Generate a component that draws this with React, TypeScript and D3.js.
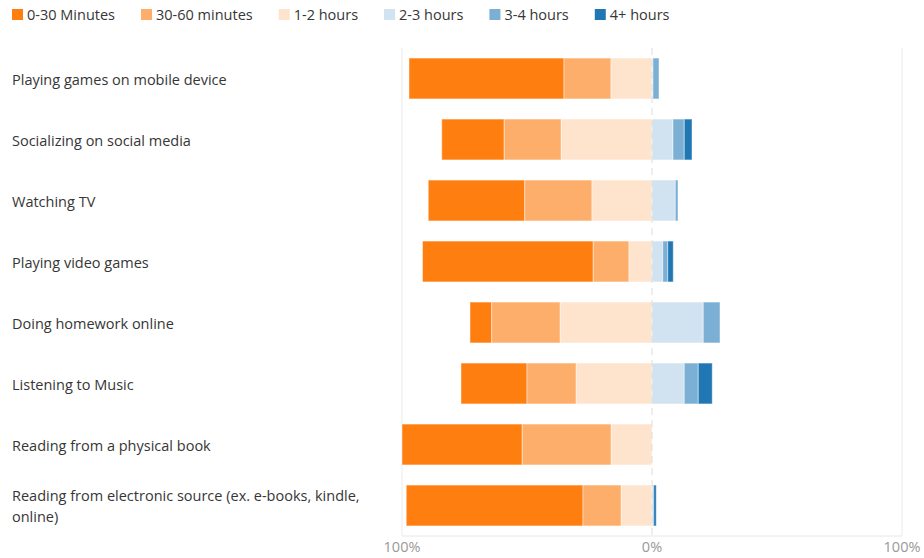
import React, { useEffect, useRef } from "react";
import * as d3 from "d3";

const categories = [
  "Playing games on mobile device",
  "Socializing on social media",
  "Watching TV",
  "Playing video games",
  "Doing homework online",
  "Listening to Music",
  "Reading from a physical book",
  "Reading from electronic source (ex. e-books, kindle, online)",
];

const seriesNames = ["0-30 Minutes", "30-60 minutes", "1-2 hours", "2-3 hours", "3-4 hours", "4+ hours"];
const seriesColors = ["#fe7f0f", "#fdae6b", "#fee4cd", "#d1e3f0", "#7bafd4", "#2176b4"];

const min0to30 = [62, 25, 38.6, 68.3, 8.7, 26.4, 48.1, 70.7];
const min30to60 = [18.8, 22.8, 26.9, 14.3, 27.4, 19.7, 35.6, 15.3];
const hours1to2 = [16.4, 36.3, 24, 9.2, 36.7, 30.3, 16.3, 12.3];
const hours2to3 = [0.4, 8.4, 9.3, 4.3, 20.5, 12.9, 0, 0.3];
const hours3to4 = [2.4, 4.5, 1.1, 2, 6.7, 5.6, 0, 0.4];
const hours4plus = [0, 3.1, 0, 2.2, 0, 5.6, 0, 1.0];

const tickValues = [-100, 0, 100];

const W = 924;
const H = 558;
const FONT = "'Open Sans', 'Noto Sans', sans-serif";
const FS = 14.5;

export default function App() {
  const ref = useRef<SVGSVGElement | null>(null);

  useEffect(() => {
    const svg = d3.select(ref.current);
    svg.selectAll("*").remove();

    const values = [min0to30, min30to60, hours1to2, hours2to3, hours3to4, hours4plus];

    const x = d3.scaleLinear().domain([-100, 100]).range([402, 902]);
    const y = d3.scaleBand<string>().domain(categories).range([48, 536]).paddingInner(0.33).paddingOuter(0.165);

    // grid lines
    const g = svg.append("g");
    [-100, 100].forEach((v) => {
      g.append("line")
        .attr("x1", x(v)).attr("x2", x(v))
        .attr("y1", 48).attr("y2", 536)
        .attr("stroke", "#ebebeb").attr("stroke-width", 1);
    });
    g.append("line")
      .attr("x1", x(-100)).attr("x2", x(100))
      .attr("y1", 536).attr("y2", 536)
      .attr("stroke", "#e6e6e6").attr("stroke-width", 1);

    // bars
    const bars = svg.append("g");
    categories.forEach((cat, i) => {
      const leftTotal = values[0][i] + values[1][i] + values[2][i];
      let cursor = -leftTotal;
      for (let s = 0; s < 6; s++) {
        const v = values[s][i];
        if (s === 3) cursor = 0;
        if (v > 0) {
          bars.append("rect")
            .attr("x", x(cursor))
            .attr("y", y(cat)!)
            .attr("width", x(cursor + v) - x(cursor))
            .attr("height", y.bandwidth())
            .attr("fill", seriesColors[s])
            .attr("stroke", "#ffffff")
            .attr("stroke-opacity", 0.45)
            .attr("stroke-width", 1);
        }
        cursor += v;
      }
    });

    // center dashed line
    svg.append("line")
      .attr("x1", x(0)).attr("x2", x(0))
      .attr("y1", 48).attr("y2", 536)
      .attr("stroke", "#dddddd").attr("stroke-width", 1)
      .attr("stroke-dasharray", "7,5");

    // axis tick labels
    svg.append("g")
      .selectAll("text")
      .data(tickValues)
      .join("text")
      .attr("x", (d) => x(d))
      .attr("y", 552)
      .attr("text-anchor", "middle")
      .attr("font-family", FONT)
      .attr("font-size", FS)
      .attr("fill", "#999999")
      .text((d) => `${Math.abs(d)}%`);

    // category labels
    const labels = svg.append("g");
    categories.forEach((cat) => {
      const cy = y(cat)! + y.bandwidth() / 2 + 1;
      const t = labels.append("text")
        .attr("x", 12)
        .attr("font-family", FONT)
        .attr("font-size", FS)
        .attr("fill", "#363636");
      const words = cat.split(" ");
      const maxW = 370;
      const lines: string[] = [];
      let line: string[] = [];
      const probe = t.append("tspan");
      words.forEach((w) => {
        const test = [...line, w].join(" ");
        probe.text(test);
        if ((probe.node() as SVGTSpanElement).getComputedTextLength() > maxW && line.length) {
          lines.push(line.join(" "));
          line = [w];
        } else {
          line.push(w);
        }
      });
      lines.push(line.join(" "));
      probe.remove();
      const lh = 21;
      const startY = cy - ((lines.length - 1) * lh) / 2;
      lines.forEach((l, k) => {
        t.append("tspan")
          .attr("x", 12)
          .attr("y", startY + k * lh)
          .attr("dy", "0.35em")
          .text(l);
      });
    });

    // legend
    const legend = svg.append("g");
    let lx = 12;
    seriesNames.forEach((name, s) => {
      legend.append("rect")
        .attr("x", lx).attr("y", 9)
        .attr("width", 11).attr("height", 11)
        .attr("fill", seriesColors[s]);
      const txt = legend.append("text")
        .attr("x", lx + 15).attr("y", 14.5)
        .attr("dy", "0.35em")
        .attr("font-family", FONT)
        .attr("font-size", FS)
        .attr("fill", "#363636")
        .text(name);
      const w = (txt.node() as SVGTextElement).getComputedTextLength();
      lx += 15 + w + 26;
    });
  }, []);

  return (
    <svg
      ref={ref}
      width={W}
      height={H}
      style={{ position: "absolute", left: 0, top: 0, background: "#ffffff" }}
    />
  );
}
